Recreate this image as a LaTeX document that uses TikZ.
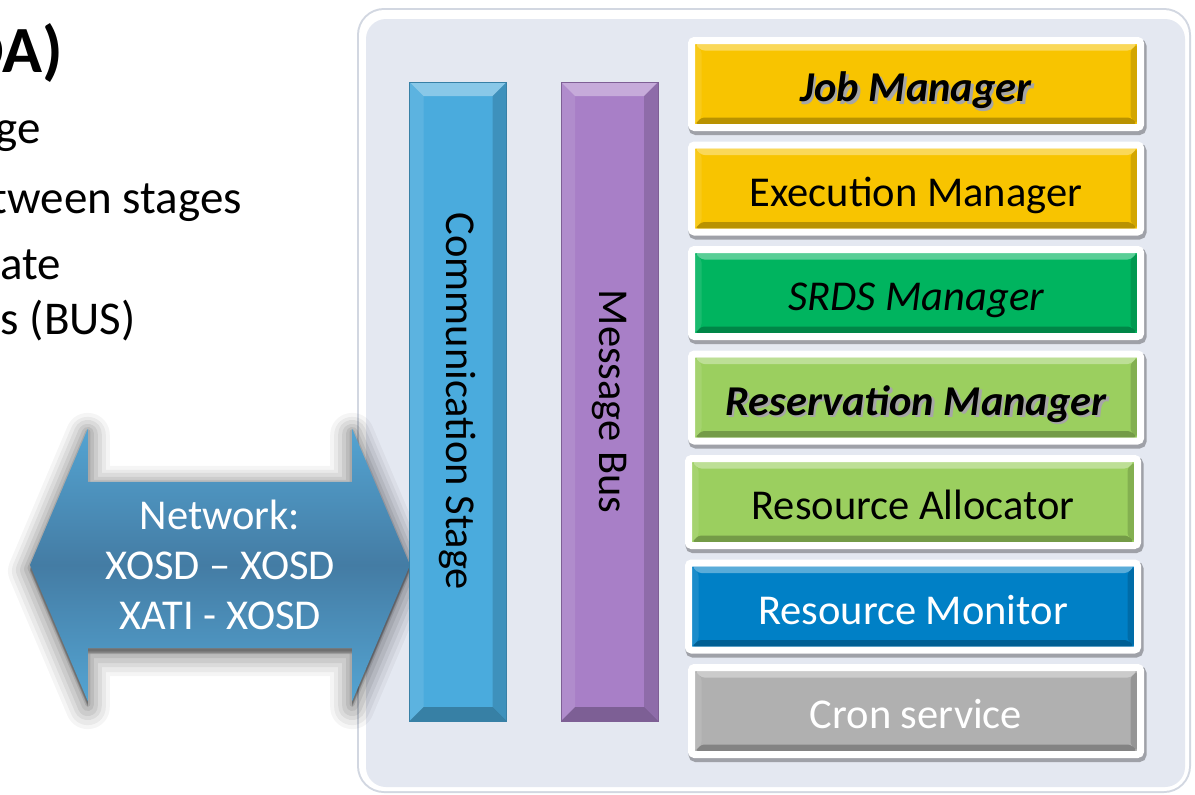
\documentclass[tikz,border=0pt]{standalone}
\usepackage{fontspec}
\setmainfont{Carlito}
\usepackage{tikz}
\usetikzlibrary{positioning,shapes.arrows}

\definecolor{panelfill}{RGB}{228,232,241}
\definecolor{panelrim}{RGB}{210,215,225}
\definecolor{jobgold}{RGB}{248,196,0}
\definecolor{srdsgreen}{RGB}{0,180,95}
\definecolor{resgreen}{RGB}{155,207,95}
\definecolor{monblue}{RGB}{0,128,198}
\definecolor{crongray}{RGB}{176,176,176}
\definecolor{commblue}{RGB}{74,171,221}
\definecolor{buspurple}{RGB}{168,127,199}
\definecolor{netlight}{RGB}{84,164,210}
\definecolor{netdark}{RGB}{68,124,164}

\newcommand\shtext[1]{\leavevmode\rlap{\kern2.5pt\raisebox{-2.5pt}{\textcolor{black!35}{#1}}}#1}

\begin{document}
\begin{tikzpicture}[x=1pt,y=-1pt,
  bevel/.style 2 args={path picture={
      \coordinate (pnw) at (path picture bounding box.north west);
      \coordinate (pne) at (path picture bounding box.north east);
      \coordinate (pse) at (path picture bounding box.south east);
      \coordinate (psw) at (path picture bounding box.south west);
      \fill[white,opacity=.35] ([xshift=#1,yshift=-#1]pnw) -- ([xshift=-#1,yshift=-#1]pne) -- ([xshift=-#2,yshift=-#2]pne) -- ([xshift=#2,yshift=-#2]pnw) -- cycle;
      \fill[black,opacity=.25] ([xshift=#1,yshift=#1]psw) -- ([xshift=-#1,yshift=#1]pse) -- ([xshift=-#2,yshift=#2]pse) -- ([xshift=#2,yshift=#2]psw) -- cycle;
      \fill[black,opacity=.15] ([xshift=-#1,yshift=-#1]pne) -- ([xshift=-#1,yshift=#1]pse) -- ([xshift=-#2,yshift=#2]pse) -- ([xshift=-#2,yshift=-#2]pne) -- cycle;
      \fill[white,opacity=.1] ([xshift=#1,yshift=-#1]pnw) -- ([xshift=#1,yshift=#1]psw) -- ([xshift=#2,yshift=#2]psw) -- ([xshift=#2,yshift=-#2]pnw) -- cycle;
  }},
  stagebox/.style={draw=white,line width=7pt,rounded corners=3pt,outer sep=0pt,inner sep=0pt,
    minimum width=449pt,minimum height=87pt,text height=35pt,text depth=0pt,
    font=\fontsize{42.5}{50}\selectfont,bevel={3.5pt}{10pt},
    preaction={fill=black,draw=black,line width=9pt,opacity=.3,transform canvas={xshift=1.5pt,yshift=-3pt}}},
  bar/.style={minimum width=97pt,minimum height=639pt,inner sep=0pt,line width=.6pt,
    font=\fontsize{42.5}{50}\selectfont,bevel={0pt}{14pt}},
  glow/.style={preaction={draw=black,fill=black,opacity=.04,line width=44pt,line join=round,transform canvas={yshift=-6pt}},
    preaction={draw=black,fill=black,opacity=.05,line width=36pt,line join=round,transform canvas={yshift=-6pt}},
    preaction={draw=black,fill=black,opacity=.06,line width=28pt,line join=round,transform canvas={yshift=-5pt}},
    preaction={draw=black,fill=black,opacity=.07,line width=20pt,line join=round,transform canvas={yshift=-5pt}},
    preaction={draw=black,fill=black,opacity=.08,line width=12pt,line join=round,transform canvas={yshift=-4pt}},
    preaction={draw=black,fill=black,opacity=.1,line width=5pt,line join=round,transform canvas={yshift=-3pt}}},
  sidetext/.style={anchor=base east,inner sep=0pt,font=\fontsize{47}{56}\selectfont}]

\clip (0,0) rectangle (1195,795);

\node[sidetext,font=\fontsize{66}{76}\selectfont\bfseries] (title) at (63,72) {DA)};
\node[sidetext] (l1) at (41,143) {ge};
\node[sidetext] (l2) at (242,213) {tween stages};
\node[sidetext] (l3) at (61,279) {ate};
\node[sidetext] (l4) at (136,334) {s (BUS)};

\fill[panelrim,rounded corners=27pt] (357,8) rectangle (1191,793);
\fill[white,rounded corners=25pt] (359,10) rectangle (1189,791);
\fill[panelfill,rounded corners=20pt] (366,19) rectangle (1185,787);

\node[double arrow,double arrow head extend=53pt,double arrow tip angle=134,
  minimum height=380pt,minimum width=272pt,inner xsep=10pt,inner ysep=18pt,
  align=center,text=white,font=\fontsize{42.5}{50}\selectfont,
  top color=netlight,bottom color=netlight,middle color=netdark,glow] (net) at (220,565)
  {Network:\\XOSD – XOSD\\XATI - XOSD};

\node[bar,fill=commblue,draw=commblue!75!black] (comm) at (458,401.5) {\rotatebox{-90}{Communication Stage}};
\node[bar,fill=buspurple,draw=buspurple!75!black] (bus) at (609.5,401.5) {\rotatebox{-90}{Message Bus}};

\node[stagebox,fill=jobgold] (job) at (916,84) {\bfseries\itshape\shtext{Job Manager}};
\node[stagebox,fill=jobgold,below=17.5pt of job] (exec) {Execution Manager};
\node[stagebox,fill=srdsgreen,below=17.5pt of exec] (srds) {\itshape SRDS Manager};
\node[stagebox,fill=resgreen,below=17.5pt of srds] (resv) {\bfseries\itshape\shtext{Reservation Manager}};
\node[stagebox,fill=resgreen,below=17.5pt of resv,xshift=-3pt] (alloc) {Resource Allocator};
\node[stagebox,fill=monblue,text=white,below=17.5pt of alloc] (mon) {Resource Monitor};
\node[stagebox,fill=crongray,text=white,below=17.5pt of mon,xshift=3pt] (cron) {Cron service};
\end{tikzpicture}
\end{document}
